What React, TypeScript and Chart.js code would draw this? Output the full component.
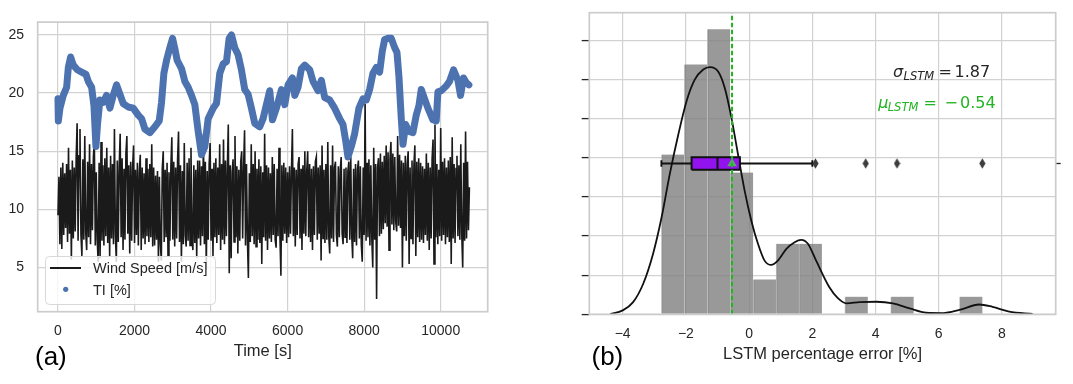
import React, { useEffect, useRef } from 'react';
import { Chart, registerables } from 'chart.js';

Chart.register(...registerables);

// ---------------- Panel (a): time series ----------------
const TI_TIMES = [
  0, 9, 52, 139, 226, 270, 330, 400, 505, 618,
  731, 792, 879, 940, 992, 1035, 1096, 1183, 1270, 1357,
  1444, 1531, 1618, 1705, 1836, 1966, 2097, 2184, 2271, 2401,
  2532, 2645, 2706, 2767, 2836, 2923, 2993, 3054, 3115, 3228,
  3315, 3402, 3489, 3576, 3663, 3750, 3837, 3924, 4054, 4141,
  4228, 4315, 4402, 4472, 4533, 4619, 4706, 4793, 4880, 4967,
  5054, 5141, 5272, 5359, 5446, 5533, 5603, 5707, 5838, 5925,
  6012, 6125, 6186, 6273, 6360, 6447, 6577, 6664, 6794, 6881,
  6969, 7099, 7229, 7360, 7447, 7517, 7577, 7664, 7751, 7864,
  7969, 8056, 8143, 8230, 8317, 8404, 8474, 8535, 8622, 8709,
  8796, 8857, 8909, 8970, 9014, 9083, 9170, 9274, 9361, 9431,
  9492, 9579, 9666, 9796, 9883, 9927, 10014, 10144, 10231, 10336,
  10449, 10518, 10597, 10666, 10736,
];
const TI_VALUES = [
  19.5, 17.6, 18.7, 19.8, 20.5, 22.2, 23.1, 22.4, 22.0, 21.8,
  21.6, 21.0, 20.5, 18.9, 15.4, 17.4, 19.4, 19.2, 19.8, 18.7,
  19.8, 20.7, 19.9, 19.1, 18.8, 18.7, 18.1, 17.8, 16.9, 16.6,
  17.1, 17.6, 19.2, 21.7, 22.8, 23.9, 24.7, 23.8, 22.8, 22.1,
  21.0, 20.5, 19.8, 19.0, 16.7, 14.7, 15.4, 17.8, 18.7, 19.1,
  21.7, 22.5, 22.7, 24.7, 25.0, 23.9, 23.3, 22.0, 20.3, 19.9,
  18.7, 17.4, 17.1, 17.8, 19.0, 20.2, 17.7, 18.7, 20.3, 19.0,
  20.7, 21.3, 19.8, 20.5, 22.1, 22.4, 22.0, 21.0, 20.2, 21.1,
  19.6, 19.4, 18.7, 17.8, 17.3, 15.9, 14.5, 15.4, 16.5, 18.7,
  19.5, 19.4, 20.3, 21.7, 22.2, 21.8, 23.6, 24.6, 24.7, 24.7,
  23.9, 23.5, 21.4, 17.8, 15.6, 17.3, 16.7, 16.6, 18.1, 18.9,
  20.3, 19.5, 18.7, 17.7, 17.6, 20.1, 20.2, 20.6, 21.0, 22.0,
  21.1, 19.8, 21.3, 20.9, 20.7,
];

const WIND_STEP_S = 25;
const WIND_0_2475 = [
  9.5, 12.8, 7.0, 13.6, 6.6, 14.0, 7.8, 13.1, 8.4, 13.9, 7.2, 15.3, 7.9, 13.4, 5.7, 14.2, 7.5, 13.6, 8.1, 14.4,
  17.4, 7.3, 14.6, 16.9, 7.8, 6.0, 14.3, 7.4, 16.3, 8.0, 6.5, 14.1, 7.6, 15.6, 7.0, 13.9, 8.2, 14.5, 15.8, 6.9,
  13.2, 7.4, 5.5, 14.0, 5.8, 15.8, 7.3, 13.8, 6.9, 14.4, 7.7, 15.3, 7.1, 13.6, 6.0, 14.6, 7.5, 13.9, 7.0, 16.9,
  7.8, 5.5, 14.2, 7.2, 13.7, 16.5, 7.6, 14.4, 6.5, 13.5, 7.4, 14.8, 16.3, 7.9, 13.8, 6.2, 14.1, 7.3, 13.6, 15.5,
  7.1, 13.4, 7.8, 14.0, 6.9, 13.2, 14.7, 6.5, 13.6, 7.5, 13.1, 7.0, 14.4, 7.7, 13.5, 7.2, 13.9, 7.6, 15.6, 6.8,
];
const WIND_2500_4975 = [
  13.6, 6.9, 12.9, 7.4, 13.3, 5.5, 12.8, 7.0, 5.6, 13.5, 15.0, 7.2, 13.4, 7.6, 14.0, 6.0, 13.2, 7.3, 13.7, 16.2,
  7.4, 14.1, 6.8, 13.6, 7.5, 14.3, 16.7, 7.2, 13.8, 5.5, 13.3, 7.0, 15.7, 7.8, 6.8, 14.0, 7.3, 14.4, 6.9, 15.3,
  7.6, 6.5, 13.8, 7.1, 13.4, 5.8, 14.2, 7.5, 14.2, 6.9, 13.7, 7.7, 16.5, 7.0, 14.1, 4.8, 13.3, 7.4, 13.9, 15.7,
  7.3, 13.5, 6.0, 14.0, 7.6, 14.4, 7.1, 13.6, 7.8, 15.6, 6.5, 13.9, 7.4, 16.0, 7.0, 14.2, 7.7, 13.5, 17.3, 4.5,
  13.8, 5.8, 13.2, 14.3, 7.2, 16.3, 7.6, 13.7, 6.2, 13.4, 7.3, 14.1, 15.0, 7.5, 13.6, 16.8, 6.9, 13.9, 7.4, 4.1,
];
const WIND_5000_7475 = [
  13.1, 7.2, 15.6, 7.7, 13.9, 7.0, 15.0, 6.8, 13.5, 7.4, 14.3, 7.1, 13.7, 5.3, 13.2, 7.6, 16.5, 7.3, 13.8, 6.5,
  13.6, 7.5, 13.1, 7.2, 14.5, 7.8, 13.9, 7.4, 6.7, 13.5, 7.7, 15.3, 7.6, 4.3, 13.8, 7.3, 14.0, 7.9, 13.6, 7.1,
  13.2, 7.6, 13.7, 7.9, 13.3, 16.9, 7.7, 13.6, 6.8, 13.4, 7.8, 13.9, 14.5, 7.5, 13.5, 6.5, 13.8, 7.9, 15.0, 7.7,
  13.3, 15.0, 7.6, 13.9, 7.2, 13.5, 6.5, 13.7, 7.8, 14.1, 14.5, 7.4, 13.6, 7.9, 13.8, 5.6, 15.5, 7.5, 13.4, 7.1,
  13.9, 7.4, 15.8, 7.7, 6.2, 13.8, 7.5, 15.5, 7.2, 13.6, 14.1, 7.8, 6.8, 13.7, 7.6, 13.4, 14.5, 7.9, 7.0, 13.5,
];
const WIND_7500_9975 = [
  7.6, 13.6, 7.1, 13.3, 14.1, 7.4, 14.5, 7.8, 5.8, 13.5, 7.2, 13.9, 6.9, 13.4, 14.2, 7.5, 13.7, 7.0, 5.5, 13.6,
  7.8, 19.1, 7.3, 14.0, 7.6, 14.3, 6.9, 13.8, 7.5, 5.0, 15.3, 7.4, 13.9, 2.3, 13.6, 14.4, 7.7, 14.8, 7.9, 14.1,
  8.3, 14.6, 8.8, 15.5, 8.5, 14.9, 6.5, 14.3, 15.8, 8.7, 14.8, 8.2, 14.5, 8.9, 8.1, 16.3, 8.6, 14.7, 8.4, 14.2,
  5.0, 14.0, 7.7, 14.6, 7.3, 13.9, 15.0, 5.3, 13.6, 7.5, 14.2, 7.0, 13.8, 15.5, 6.0, 14.1, 7.6, 14.4, 7.2, 14.0,
  7.4, 13.7, 7.1, 13.5, 7.8, 14.8, 7.3, 14.0, 6.5, 13.6, 7.5, 14.3, 16.0, 5.3, 17.3, 7.6, 13.9, 7.0, 13.4, 7.7,
];
const WIND_10000_10750 = [
  17.0, 7.3, 14.1, 7.8, 14.4, 7.0, 13.6, 7.6, 14.2, 7.2, 14.5, 5.3, 16.2, 7.5, 13.9, 7.1, 13.5, 14.6, 7.7, 13.8,
  7.4, 15.6, 7.9, 5.0, 14.0, 7.3, 16.7, 7.5, 14.1, 8.2, 11.9,
];
const WIND_SPEED = [
  ...WIND_0_2475, ...WIND_2500_4975, ...WIND_5000_7475, ...WIND_7500_9975, ...WIND_10000_10750,
];
const TIME_TICKS = [0, 2000, 4000, 6000, 8000, 10000];
const VALUE_TICKS = [5, 10, 15, 20, 25];

// ---------------- Panel (b): error distribution ----------------
const BIN_CENTERS = [-2.412, -1.687, -0.961, -0.235, 0.49, 1.216, 1.941, 2.667, 3.393, 4.118, 4.844, 5.569, 6.295, 7.02];
const BIN_DENSITY = [0.204, 0.319, 0.364, 0.181, 0.0445, 0.09, 0.09, 0, 0.0225, 0, 0.0225, 0, 0, 0.0225];
const KDE_X = [
  -4.4, -4.0, -3.67, -3.35, -3.04, -2.77, -2.51, -2.24, -1.98, -1.72, -1.45, -1.24, -0.98, -0.77, -0.56,
  -0.35, -0.14, 0.07, 0.28, 0.49, 0.7, 0.91, 1.18, 1.44, 1.65, 1.86, 2.12, 2.54, 2.8, 3.08, 3.5, 4.02,
  4.55, 5.08, 5.6, 6.13, 6.65, 7.28, 7.7, 8.23, 8.97,
];
const KDE_Y = [
  0, 0.005, 0.0155, 0.039, 0.077, 0.1235, 0.179, 0.2295, 0.272, 0.2995, 0.3125, 0.3155, 0.31, 0.289, 0.251,
  0.204, 0.1575, 0.1195, 0.09, 0.0685, 0.063, 0.0685, 0.0835, 0.092, 0.095, 0.09, 0.0685, 0.0345, 0.021, 0.014, 0.0155, 0.016,
  0.014, 0.0075, 0.002, 0.0015, 0.0055, 0.0125, 0.0095, 0.0035, 0.0005,
];
const BOX_WHISKERS = [-2.775, 2.0];
const BOX_QUARTILES = [-1.82, -1.0, -0.29]; // Q1, median, Q3
const OUTLIERS = [2.1, 3.69, 4.68, 7.38];
const LSTM_MEAN = -0.54;
const LSTM_STD = 1.87;
const ERROR_TICKS = [-4, -2, 0, 2, 4, 6, 8];
const DENSITY_TICKS = [0, 0.05, 0.1, 0.15, 0.2, 0.25, 0.3, 0.35];

// ---------------- styles ----------------
const FONT = "'Liberation Sans', Arial, sans-serif";
const MATH = "'DejaVu Sans', sans-serif";
const TXT = '#262626';
const GRID = '#d2d2d2';
const FRAME = '#cccccc';
const BLUE = '#4c72b0';
const DARK = '#1a1a1a';
const GREEN = '#22b422';
const PURPLE = '#9313ee';

const fmt = (v: number) => (v < 0 ? '\u2212' + Math.abs(v) : String(v));
const setTicks = (values: number[]) => (s: any) => {
  s.ticks = values.map((value) => ({ value }));
};

const framePlugin = {
  id: 'frame',
  afterDraw(chart: any) {
    const { ctx, chartArea: a } = chart;
    ctx.save();
    ctx.strokeStyle = FRAME;
    ctx.lineWidth = 1.7;
    ctx.strokeRect(a.left, a.top, a.right - a.left, a.bottom - a.top);
    ctx.restore();
  },
};

const panelLabel = (text: string, x: number, y: number) => ({
  id: 'panelLabel',
  afterDraw(chart: any) {
    const ctx = chart.ctx;
    ctx.save();
    ctx.font = `26px ${FONT}`;
    ctx.fillStyle = '#000';
    ctx.textAlign = 'left';
    ctx.textBaseline = 'alphabetic';
    ctx.fillText(text, x, y);
    ctx.restore();
  },
});

const legendPlugin = {
  id: 'legendA',
  afterDraw(chart: any) {
    const ctx = chart.ctx;
    const ds = chart.data.datasets;
    const wind = ds[1];
    const ti = ds[0];
    ctx.save();
    const x = 45.5, y = 256.5, w = 170, h = 48, r = 4;
    ctx.beginPath();
    ctx.moveTo(x + r, y);
    ctx.arcTo(x + w, y, x + w, y + h, r);
    ctx.arcTo(x + w, y + h, x, y + h, r);
    ctx.arcTo(x, y + h, x, y, r);
    ctx.arcTo(x, y, x + w, y, r);
    ctx.closePath();
    ctx.fillStyle = 'rgba(255,255,255,0.8)';
    ctx.fill();
    ctx.strokeStyle = '#d8d8d8';
    ctx.lineWidth = 1;
    ctx.stroke();
    ctx.strokeStyle = wind.borderColor;
    ctx.lineWidth = 2;
    ctx.beginPath();
    ctx.moveTo(50, 268);
    ctx.lineTo(81, 268);
    ctx.stroke();
    ctx.fillStyle = ti.borderColor;
    ctx.beginPath();
    ctx.arc(65.7, 289.3, 2.6, 0, Math.PI * 2);
    ctx.fill();
    ctx.font = `14.5px ${FONT}`;
    ctx.fillStyle = TXT;
    ctx.textBaseline = 'alphabetic';
    ctx.fillText(wind.label, 93, 273);
    ctx.fillText(ti.label, 93, 295);
    ctx.restore();
  },
};

const statsPlugin = {
  id: 'stats',
  afterDraw(chart: any) {
    const ctx = chart.ctx;
    ctx.save();
    ctx.textAlign = 'left';
    ctx.textBaseline = 'alphabetic';
    ctx.fillStyle = TXT;
    ctx.font = `italic 16px ${MATH}`;
    ctx.fillText('\u03c3', 348, 76.7);
    ctx.font = `italic 11.5px ${MATH}`;
    ctx.fillText('LSTM', 358.5, 79.5);
    ctx.font = `16px ${MATH}`;
    ctx.fillText('=', 393.5, 76.7);
    ctx.fillText(LSTM_STD.toFixed(2), 409.5, 76.7);
    ctx.fillStyle = GREEN;
    ctx.font = `italic 16px ${MATH}`;
    ctx.fillText('\u03bc', 333.3, 108.3);
    ctx.font = `italic 11.5px ${MATH}`;
    ctx.fillText('LSTM', 342.7, 111);
    ctx.font = `16px ${MATH}`;
    ctx.fillText('=', 378.5, 108.3);
    ctx.fillText('\u2212', 399.5, 108.3);
    ctx.fillText(Math.abs(LSTM_MEAN).toFixed(2), 415, 108.3);
    ctx.restore();
  },
};

function makeDiamond(): HTMLCanvasElement {
  const c = document.createElement('canvas');
  c.width = 7;
  c.height = 11;
  const g = c.getContext('2d')!;
  g.fillStyle = '#3d3d3d';
  g.beginPath();
  g.moveTo(3.5, 0.3);
  g.lineTo(6.6, 5.5);
  g.lineTo(3.5, 10.7);
  g.lineTo(0.4, 5.5);
  g.closePath();
  g.fill();
  return c;
}

export default function App() {
  const leftRef = useRef<HTMLCanvasElement>(null);
  const rightRef = useRef<HTMLCanvasElement>(null);

  useEffect(() => {
    Chart.defaults.font.family = FONT;
    const tickFont = { family: FONT, size: 14 };
    const titleFont = { family: FONT, size: 16.5 };

    const left = new Chart(leftRef.current!, {
      type: 'line',
      data: {
        datasets: [
          {
            label: 'TI [%]',
            data: TI_TIMES.map((t, i) => ({ x: t, y: TI_VALUES[i] })),
            borderColor: BLUE,
            backgroundColor: BLUE,
            borderWidth: 7,
            borderJoinStyle: 'round',
            borderCapStyle: 'round',
            pointRadius: 0,
            order: 0,
          },
          {
            label: 'Wind Speed [m/s]',
            data: WIND_SPEED.map((v, i) => ({ x: i * WIND_STEP_S, y: v })),
            borderColor: DARK,
            borderWidth: 1.6,
            pointRadius: 0,
            order: 1,
          },
        ],
      } as any,
      options: {
        responsive: false,
        animation: false,
        events: [],
        layout: { padding: { left: 0, top: 10, right: 57.3, bottom: 0 } },
        plugins: { legend: { display: false }, tooltip: { enabled: false } },
        scales: {
          x: {
            type: 'linear',
            min: -530,
            max: 11228,
            offset: false,
            afterBuildTicks: setTicks(TIME_TICKS),
            ticks: { padding: 11, font: tickFont, color: TXT, maxRotation: 0, autoSkip: false, callback: (v: any) => fmt(Number(v)) },
            grid: { color: GRID, lineWidth: 1.2, drawTicks: false, offset: false },
            border: { display: false },
            title: { display: true, text: 'Time [s]', font: titleFont, color: TXT, padding: { top: 0, bottom: 23 } },
            afterFit: (s: any) => { s.height = 72.3; },
          },
          y: {
            type: 'linear',
            min: 1.204,
            max: 26.098,
            afterBuildTicks: setTicks(VALUE_TICKS),
            ticks: { padding: 13.7, font: tickFont, color: TXT, callback: (v: any) => fmt(Number(v)) },
            grid: { color: GRID, lineWidth: 1.2, drawTicks: false },
            border: { display: false },
            afterFit: (s: any) => { s.width = 37.7; },
          },
        },
      } as any,
      plugins: [framePlugin, legendPlugin, panelLabel('(a)', 35, 364.5)] as any,
    });

    const boxB = 0.0206;
    const capC = 0.011;
    const [q1, med, q3] = BOX_QUARTILES;
    const [wLo, wHi] = BOX_WHISKERS;
    const boxLine = (label: string, data: any[], order: number, width = 2) => ({
      type: 'line',
      label,
      data,
      yAxisID: 'yBox',
      borderColor: '#111111',
      borderWidth: width,
      pointRadius: 0,
      fill: false,
      order,
    });

    const right = new Chart(rightRef.current!, {
      type: 'line',
      data: {
        datasets: [
          {
            type: 'line',
            label: 'mean line',
            data: [{ x: LSTM_MEAN, y: 0 }, { x: LSTM_MEAN, y: 0.385 }],
            yAxisID: 'y',
            borderColor: GREEN,
            borderWidth: 2,
            borderDash: [4.5, 2.5],
            pointRadius: 0,
            order: 0,
          },
          {
            type: 'line',
            label: 'mean',
            data: [{ x: LSTM_MEAN, y: 0 }],
            yAxisID: 'yBox',
            showLine: false,
            pointStyle: 'triangle',
            pointRadius: 5.6,
            pointBackgroundColor: '#55a868',
            pointBorderColor: '#55a868',
            pointBorderWidth: 0,
            order: 1,
          },
          {
            type: 'line',
            label: 'outliers',
            data: OUTLIERS.map((x) => ({ x, y: 0 })),
            yAxisID: 'yBox',
            showLine: false,
            pointStyle: makeDiamond(),
            pointRadius: 5,
            order: 1,
          },
          boxLine('median', [{ x: med, y: -boxB }, { x: med, y: boxB }], 2),
          {
            ...boxLine('box', [
              { x: q1, y: -boxB }, { x: q3, y: -boxB }, { x: q3, y: boxB }, { x: q1, y: boxB }, { x: q1, y: -boxB },
            ], 2),
            backgroundColor: PURPLE,
            fill: 'shape',
          },
          boxLine('whisker low', [{ x: wLo, y: 0 }, { x: q1, y: 0 }], 3, 1.9),
          boxLine('whisker high', [{ x: q3, y: 0 }, { x: wHi, y: 0 }], 3, 1.9),
          boxLine('cap low', [{ x: wLo, y: -capC }, { x: wLo, y: capC }], 3, 1.9),
          boxLine('cap high', [{ x: wHi, y: -capC }, { x: wHi, y: capC }], 3, 1.9),
          {
            type: 'line',
            label: 'KDE',
            data: KDE_X.map((x, i) => ({ x, y: KDE_Y[i] })),
            yAxisID: 'y',
            borderColor: '#111111',
            borderWidth: 1.8,
            pointRadius: 0,
            cubicInterpolationMode: 'monotone',
            order: 4,
          },
          {
            type: 'bar',
            label: 'histogram',
            data: BIN_CENTERS.map((x, i) => ({ x, y: BIN_DENSITY[i] })),
            yAxisID: 'y',
            backgroundColor: 'rgba(128,128,128,0.8)',
            borderColor: '#bdbdbd',
            borderWidth: { left: 1, right: 0, top: 0, bottom: 0 },
            borderSkipped: false,
            barPercentage: 1,
            categoryPercentage: 1,
            order: 5,
          },
        ],
      } as any,
      options: {
        responsive: false,
        animation: false,
        events: [],
        layout: { padding: { left: 0, top: 12.7, right: 7.3, bottom: 0 } },
        plugins: { legend: { display: false }, tooltip: { enabled: false } },
        scales: {
          x: {
            type: 'linear',
            min: -5.056,
            max: 9.7,
            offset: false,
            afterBuildTicks: setTicks(ERROR_TICKS),
            ticks: { padding: 11, font: tickFont, color: TXT, maxRotation: 0, autoSkip: false, callback: (v: any) => fmt(Number(v)) },
            grid: { color: GRID, lineWidth: 1.2, drawTicks: false, offset: false },
            border: { display: false },
            title: { display: true, text: 'LSTM percentage error [%]', font: titleFont, color: TXT, padding: { top: 0, bottom: 19.7 } },
            afterFit: (s: any) => { s.height = 69.7; },
          },
          y: {
            type: 'linear',
            position: 'left',
            min: 0,
            max: 0.385,
            afterBuildTicks: setTicks(DENSITY_TICKS),
            ticks: { display: false },
            grid: { color: GRID, lineWidth: 1.2, drawTicks: true, tickLength: 7.6, tickColor: TXT, tickWidth: 1.3 },
            border: { display: false },
            afterFit: (s: any) => { s.width = 44.3; },
          },
          yBox: {
            type: 'linear',
            position: 'right',
            min: -0.5,
            max: 0.5,
            ticks: { display: false },
            afterBuildTicks: setTicks([0]),
            grid: { drawOnChartArea: false, drawTicks: true, tickLength: 5, tickColor: TXT, tickWidth: 1.3 },
            border: { display: false },
            afterFit: (s: any) => { s.width = 10; },
          },
        },
      } as any,
      plugins: [framePlugin, statsPlugin, panelLabel('(b)', 46.5, 364.5)] as any,
    });

    return () => {
      left.destroy();
      right.destroy();
    };
  }, []);

  return (
    <div style={{ position: 'fixed', left: 0, top: 0, width: 1073, height: 384, background: '#ffffff' }}>
      <canvas ref={leftRef} width={545} height={384} style={{ position: 'absolute', left: 0, top: 0, width: 545, height: 384 }} />
      <canvas ref={rightRef} width={528} height={384} style={{ position: 'absolute', left: 545, top: 0, width: 528, height: 384 }} />
    </div>
  );
}
